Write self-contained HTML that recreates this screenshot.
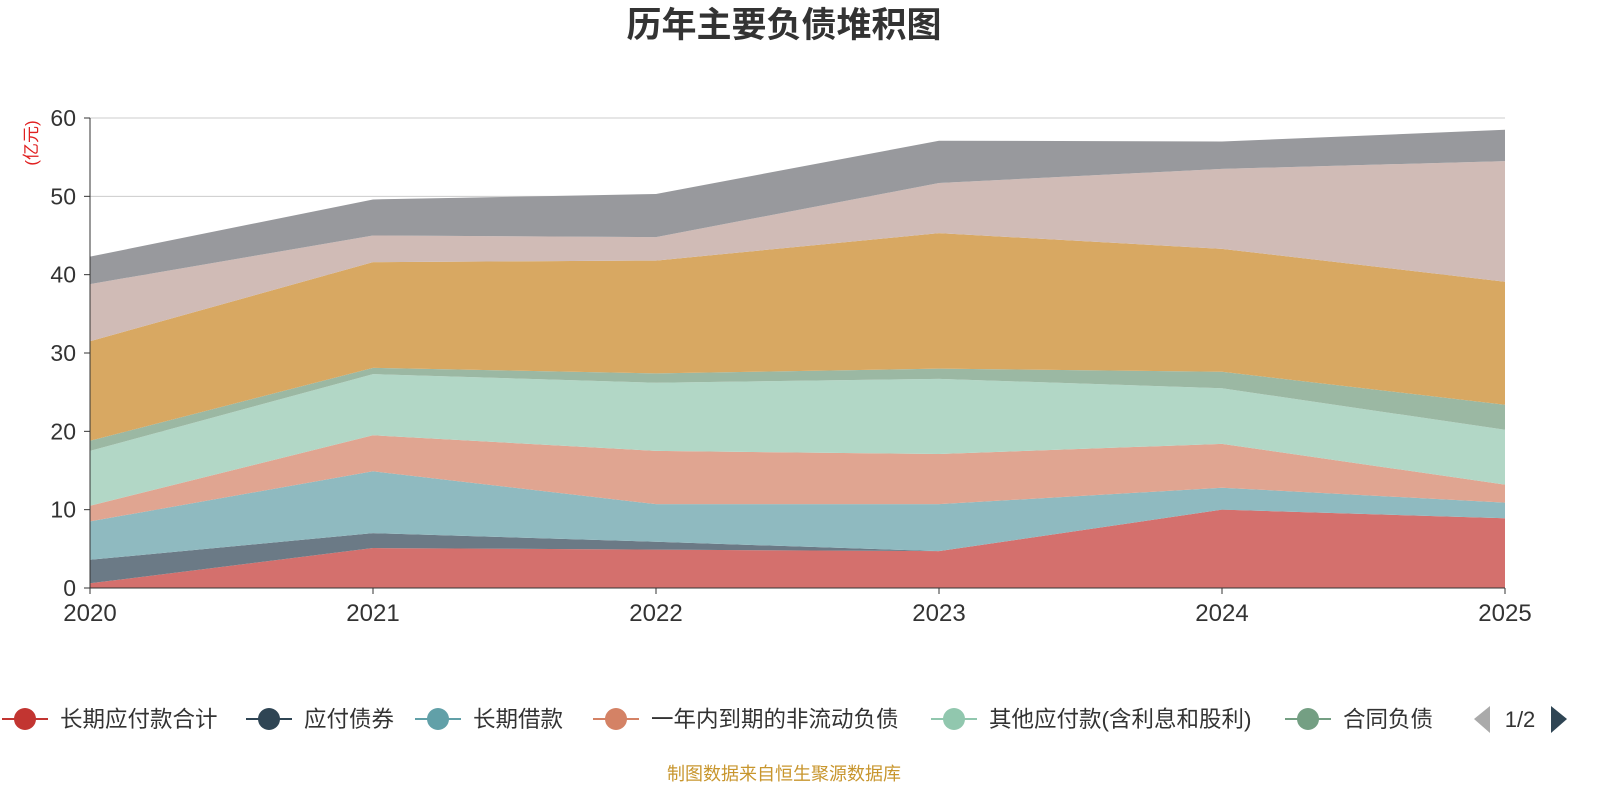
<!DOCTYPE html>
<html><head><meta charset="utf-8"><style>
body{margin:0;background:#fff;width:1600px;height:800px;overflow:hidden;font-family:"Liberation Sans","Noto Sans CJK SC",sans-serif}
</style></head><body>
<svg id="c" width="1600" height="800" xmlns="http://www.w3.org/2000/svg" style="font-family:'Liberation Sans','Noto Sans CJK SC',sans-serif">
<text x="784" y="37" text-anchor="middle" font-size="35" font-weight="bold" fill="#333">历年主要负债堆积图</text>
<text transform="translate(37,143) rotate(-90)" text-anchor="middle" font-size="17" fill="#e02020">(亿元)</text>
<g id="grid"></g><g id="areas"></g><g id="axes"></g><g id="legend"></g>
<text x="784" y="780" text-anchor="middle" font-size="18" fill="#c8962e">制图数据来自恒生聚源数据库</text>
</svg>
<script>
const years=['2020','2021','2022','2023','2024','2025'];
const yTicks=[0,10,20,30,40,50,60];
const names=['长期应付款合计','应付债券','长期借款','一年内到期的非流动负债','其他应付款(含利息和股利)','合同负债','应付账款','应付票据','其他负债'];
const s0=[0.6,5.1,4.9,4.7,10.0,8.9];
const s1=[3.0,1.9,1.0,0.0,0.0,0.0];
const s2=[4.9,7.9,4.8,6.0,2.8,2.0];
const s3=[2.0,4.6,6.8,6.4,5.6,2.3];
const s4=[7.0,7.8,8.7,9.6,7.1,7.0];
const s5=[1.3,0.8,1.2,1.3,2.1,3.2];
const s6=[12.7,13.5,14.4,17.3,15.7,15.7];
const s7=[7.3,3.4,3.0,6.4,10.2,15.4];
const s8=[3.5,4.6,5.5,5.4,3.5,4.0];
const series=[s0,s1,s2,s3,s4,s5,s6,s7,s8];
const fills=['#d4706d','#6b7a86','#8fbac0','#e0a591','#b2d7c6','#9bb8a3','#d8a862','#d0bbb6','#98999d'];
const icons=['#c23531','#2f4554','#61a0a8','#d48265','#91c7ae','#749f83'];
const X=i=>90+i*(1505-90)/(years.length-1);
const Y=v=>588-v*(470/60);
const ns='http://www.w3.org/2000/svg';
function mk(t,a,p){const e=document.createElementNS(ns,t);for(const k in a)e.setAttribute(k,a[k]);p.appendChild(e);return e;}
const grid=document.getElementById('grid'),areas=document.getElementById('areas'),axes=document.getElementById('axes'),leg=document.getElementById('legend');
yTicks.forEach(t=>{
 if(t>0){const l=mk('line',{x1:90,x2:1505,y1:Y(t),y2:Y(t),stroke:'#ccc','stroke-width':1},grid);
 
 }
 const tx=mk('text',{x:76,y:Y(t)+8,'text-anchor':'end','font-size':23,fill:'#333'},axes);tx.textContent=t;
 
 
 mk('line',{x1:84,x2:90,y1:Y(t),y2:Y(t),stroke:'#333'},axes);
});
let cum=years.map(()=>0);
series.forEach((s,k)=>{
 const lo=cum.slice();cum=cum.map((c,i)=>c+s[i]);
 let d='M'+years.map((_,i)=>X(i)+','+Y(cum[i])).join('L');
 for(let i=years.length-1;i>=0;i--)d+='L'+X(i)+','+Y(lo[i]);
 const p=mk('path',{d:d+'Z',fill:fills[k]},areas);
 
 
});
mk('line',{x1:90,x2:90,y1:118,y2:588,stroke:'#333'},axes);
mk('line',{x1:90,x2:1505,y1:588,y2:588,stroke:'#333'},axes);
years.forEach((y,i)=>{
 mk('line',{x1:X(i),x2:X(i),y1:588,y2:594,stroke:'#333'},axes);
 const t=mk('text',{x:X(i),y:621,'text-anchor':'middle','font-size':24,fill:'#333'},axes);t.textContent=y;
 
 
});
const lx=[25,269,438,616,954,1308];
lx.forEach((cx,k)=>{
 const g=mk('g',{},leg);
 
 
 mk('line',{x1:cx-23,x2:cx+23,y1:719,y2:719,stroke:icons[k],'stroke-width':2},g);
 mk('circle',{cx:cx,cy:719,r:11,fill:icons[k]},g);
 const t=mk('text',{x:cx+35,y:727,'font-size':22.5,fill:'#333'},g);t.textContent=names[k];
});
const pg=mk('g',{},leg);


mk('path',{d:'M1490,706L1474,719L1490,733Z',fill:'#aaa'},pg);
const pt=mk('text',{x:1520,y:727,'text-anchor':'middle','font-size':22,fill:'#333'},pg);pt.textContent='1/2';
mk('path',{d:'M1551,706L1567,719L1551,733Z',fill:'#2f4554'},pg);
</script>
</body></html>
